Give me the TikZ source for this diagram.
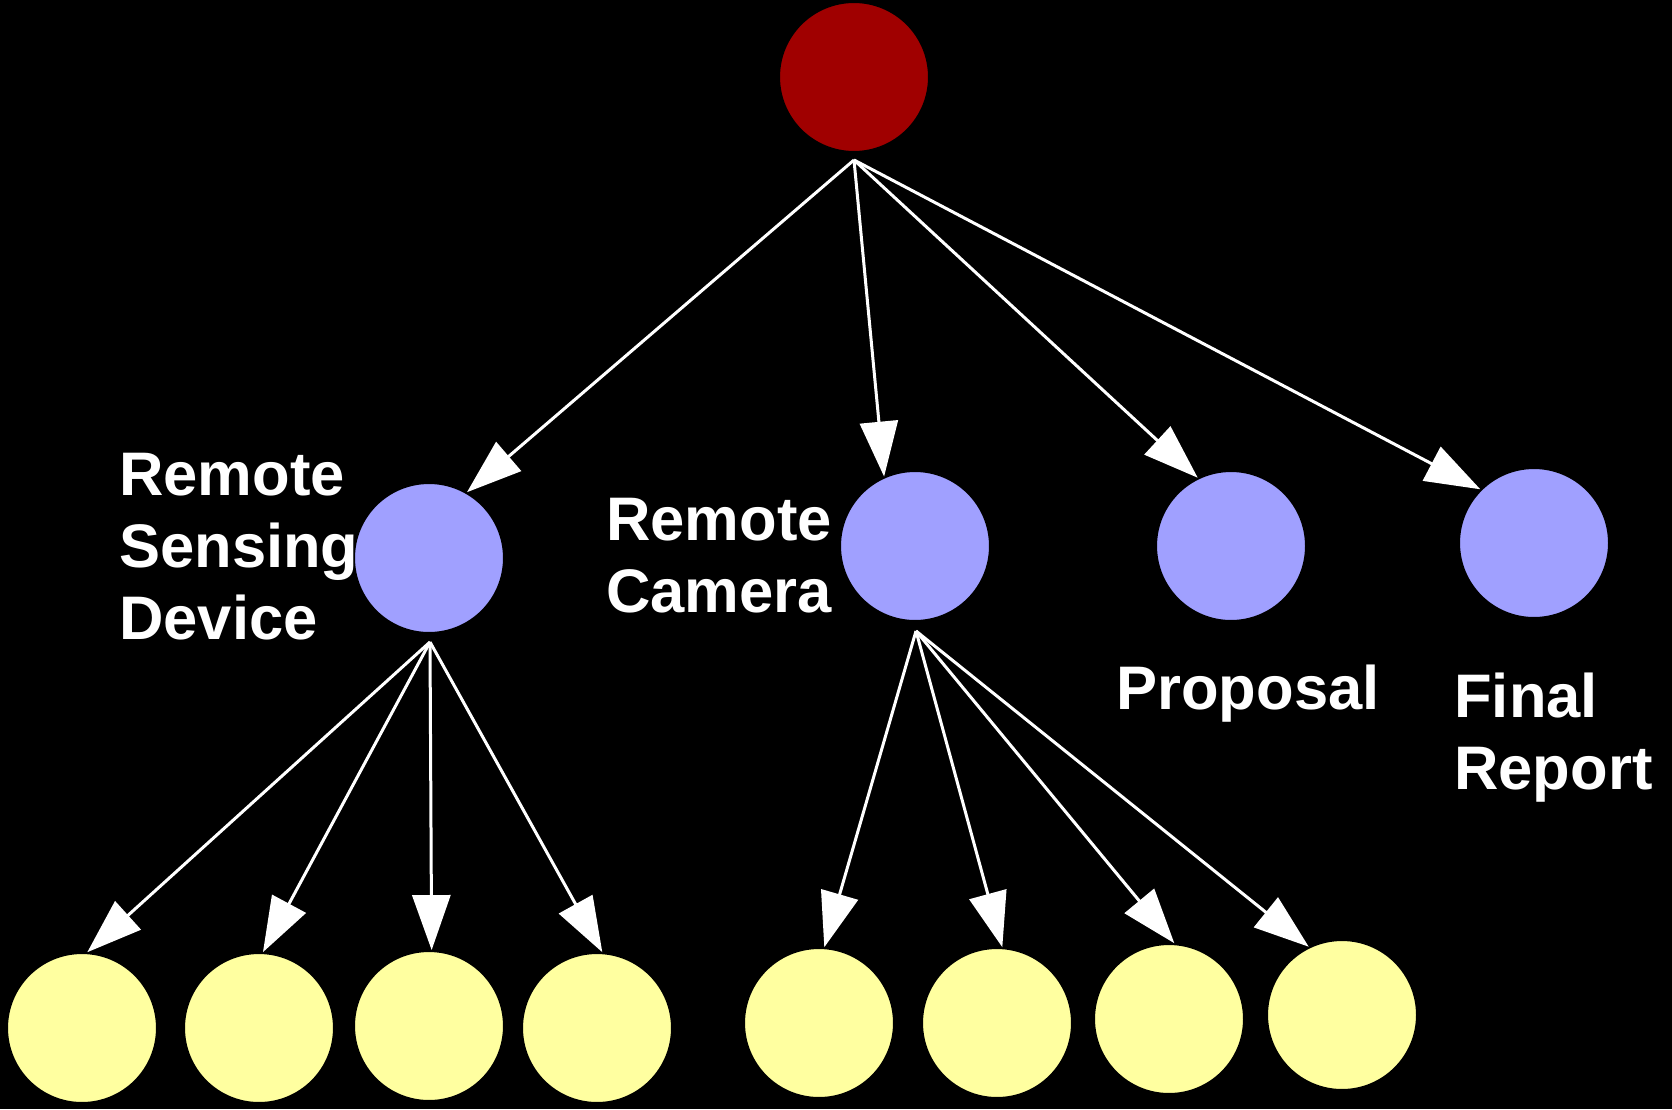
\documentclass[tikz,border=0pt]{standalone}
\usepackage{fontspec}
\setmainfont{Liberation Sans}
\usepackage{tikz}
\usetikzlibrary{arrows.meta}
\usetikzlibrary{positioning}

\definecolor{rootred}{RGB}{160,0,0}
\definecolor{partblue}{RGB}{160,160,255}
\definecolor{leafyellow}{RGB}{255,255,160}

\tikzset{
  bubble/.style={circle, draw=black, line width=0.04cm, minimum size=3cm, inner sep=0pt},
  root/.style={bubble, fill=rootred},
  part/.style={bubble, fill=partblue},
  leaf/.style={bubble, fill=leafyellow},
  link/.style={draw=white, line width=0.06cm, -{Triangle[length=1.1cm, width=0.76cm, fill=white]}},
  tag/.style={text=white, inner sep=0pt, align=left, anchor=north west,
    font=\fontsize{35}{41}\selectfont\bfseries},
}

\begin{document}
\begin{tikzpicture}[x=0.02cm, y=-0.02cm]
    \fill[black] (0,0) rectangle (1672,1109);
    % top
    \node[root] (top) at (854,77) {};
    \coordinate (topout) at (854,160);
    % second row
    \node[part] (rsd) at (429,558) {};
    \node[part] (cam) at (915,546) {};
    \node[part] (prop) at (1231,546) {};
    \node[part] (fin) at (1534,543) {};
    \coordinate (rsdout) at (430,642);
    \coordinate (camout) at (916,631);
    % leaves
    \node[leaf] (rsd1) at (82,1028) {};
    \node[leaf] (rsd2) at (259,1028) {};
    \node[leaf] (rsd3) at (429,1026) {};
    \node[leaf] (rsd4) at (597,1028) {};
    \node[leaf] (cam1) at (819,1023) {};
    \node[leaf] (cam2) at (997,1023) {};
    \node[leaf] (cam3) at (1169,1019) {};
    \node[leaf] (cam4) at (1342,1015) {};
    % labels
    \node[tag] (rsdtag) at (119,453) {Remote\\Sensing\\Device};
    \node[tag] (camtag) at (606,498) {Remote\\Camera};
    \node[tag] (proptag) at (1116,665) {Proposal};
    \node[tag] (fintag) at (1454,673) {Final\\Report};
    % arrows
    \draw[link] (topout) -- (rsd.60);
    \draw[link] (topout) -- (cam.114);
    \draw[link] (topout) -- (prop.116);
    \draw[link] (topout) -- (fin.135);
    \draw[link] (rsdout) -- (rsd1.86);
    \draw[link] (rsdout) -- (rsd2.87);
    \draw[link] (rsdout) -- (rsd3.88);
    \draw[link] (rsdout) -- (rsd4.86);
    \draw[link] (camout) -- (cam1.86);
    \draw[link] (camout) -- (cam2.86);
    \draw[link] (camout) -- (cam3.86);
    \draw[link] (camout) -- (cam4.116);
\end{tikzpicture}
\end{document}
